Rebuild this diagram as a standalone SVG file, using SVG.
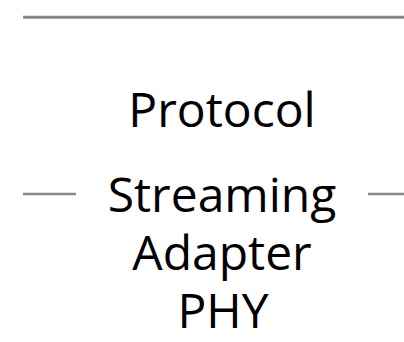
<svg xmlns="http://www.w3.org/2000/svg" width="404" height="342" viewBox="0 0 404 342">
<style>
.rule{stroke:#888888;fill:none}
.lbl{font-family:"Open Sans","Noto Sans",sans-serif;font-size:48px;fill:#000000;text-anchor:middle}
</style>
<rect width="404" height="342" fill="#ffffff"/>
<g id="connectors">
<line class="rule" x1="23" y1="17.2" x2="404" y2="17.2" stroke-width="3"/>
<line class="rule" x1="23" y1="194" x2="76" y2="194" stroke-width="2.5"/>
<line class="rule" x1="368" y1="194" x2="404" y2="194" stroke-width="2.5"/>
</g>
<g id="protocol"><text class="lbl" x="222" y="127">Protocol</text></g>
<g id="stack">
<text class="lbl" x="222" y="212">Streaming</text>
<text class="lbl" x="222" y="270">Adapter</text>
<text class="lbl" x="223" y="328">PHY</text>
</g>
</svg>
